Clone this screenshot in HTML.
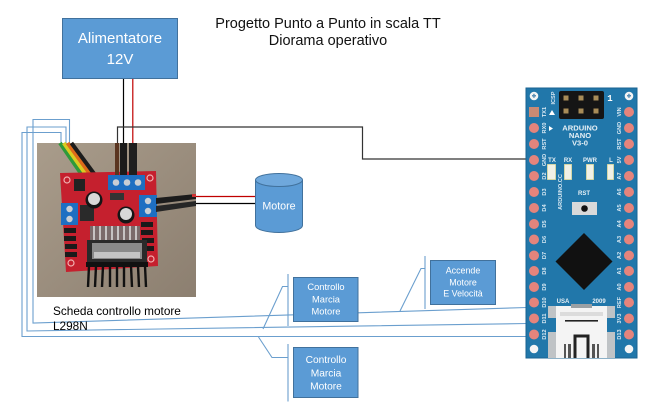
<!DOCTYPE html>
<html><head><meta charset="utf-8"><style>
html,body{margin:0;padding:0;background:#fff;}
svg{display:block;}
text{font-family:"Liberation Sans",sans-serif;}
.mono{font-family:"Liberation Mono",monospace;}
</style></head><body>
<svg width="664" height="413" viewBox="0 0 664 413" xmlns="http://www.w3.org/2000/svg">
<defs>
<linearGradient id="bg" x1="0" y1="0" x2="1" y2="1">
<stop offset="0" stop-color="#a99c8b"/><stop offset="1" stop-color="#8c7f70"/>
</linearGradient>
</defs>
<rect width="664" height="413" fill="#fff"/>

<!-- Title -->
<text x="328" y="28" font-size="14.5" text-anchor="middle" fill="#111">Progetto Punto a Punto in scala TT</text>
<text x="328" y="45" font-size="14.5" text-anchor="middle" fill="#111">Diorama operativo</text>

<!-- Alimentatore -->
<rect x="62.5" y="18.5" width="115" height="60" fill="#5b9bd5" stroke="#41719c" stroke-width="1"/>
<text x="120" y="43" font-size="15" text-anchor="middle" fill="#fff">Alimentatore</text>
<text x="120" y="64" font-size="15" text-anchor="middle" fill="#fff">12V</text>

<!-- power wires -->
<line x1="123.5" y1="79" x2="123.5" y2="145" stroke="#000" stroke-width="1.2"/>
<line x1="132.8" y1="79" x2="132.8" y2="145" stroke="#c00000" stroke-width="1.2"/>

<!-- black signal line to arduino -->
<polyline points="117.5,145 117.5,127 362.5,127 362.5,159 527,159" fill="none" stroke="#333" stroke-width="1.2"/>

<!-- blue lines left -->
<g fill="none" stroke="#6b9fce" stroke-width="1.1">
<polyline points="61,143 61,132.5 22,132.5 22,336.5 527,336.5"/>
<polyline points="66,143 66,127 27,127 27,331 527,323.5"/>
<polyline points="69.5,143 69.5,119.5 33,119.5 33,323 527,307.5"/>
</g>

<!-- Photo -->
<rect x="37" y="143" width="159" height="154" fill="url(#bg)"/>
<!-- ribbon -->
<g stroke-width="4" stroke-linecap="butt">
<line x1="60" y1="143" x2="91" y2="188" stroke="#2e9a3a"/>
<line x1="63.8" y1="143" x2="94.8" y2="187" stroke="#d9cb22"/>
<line x1="67.6" y1="143" x2="98.6" y2="186" stroke="#dd6a1a"/>
<line x1="71.4" y1="143" x2="102.4" y2="185" stroke="#1c1c1c"/>
</g>
<!-- red board -->
<polygon points="60,173 156,171 158,266 66,272" fill="#c5202e"/>
<g fill="none" stroke="#f0b0b0" stroke-width="1.2">
<circle cx="67" cy="180" r="3"/><circle cx="150" cy="178" r="3"/><circle cx="71" cy="263" r="3"/><circle cx="151" cy="259" r="3"/>
</g>
<!-- top cables -->
<rect x="115" y="143" width="4" height="34" fill="#5a3520"/>
<rect x="120" y="143" width="7" height="34" fill="#1b1b1b"/>
<rect x="129" y="143" width="8" height="34" fill="#1f1f1f"/>
<!-- terminals -->
<rect x="108" y="175" width="37" height="15" fill="#1e6fc2"/>
<g fill="#c9ced4"><circle cx="116" cy="182.5" r="3.3"/><circle cx="127" cy="182.5" r="3.3"/><circle cx="138" cy="182.5" r="3.3"/></g>
<rect x="61" y="203" width="17" height="22" fill="#1e6fc2"/>
<g fill="#c9ced4"><circle cx="69.5" cy="209" r="3.2"/><circle cx="69.5" cy="219" r="3.2"/></g>
<rect x="139" y="195" width="18" height="22" fill="#1e6fc2"/>
<g fill="#c9ced4"><circle cx="148" cy="201" r="3.2"/><circle cx="148" cy="211" r="3.2"/></g>
<!-- right cables -->
<polygon points="156,198 196,194 196,199 156,204" fill="#1c1c1c"/>
<polygon points="156,206 196,201 196,206 156,212" fill="#262626"/>
<rect x="192" y="194" width="4" height="3" fill="#c33"/>
<!-- small parts -->
<rect x="74" y="179" width="11" height="12" fill="#222"/>
<rect x="80" y="205" width="14" height="16" fill="#2a2a2a"/>
<rect x="110" y="193" width="14" height="7" fill="#333"/>
<circle cx="94" cy="200" r="8.5" fill="#151515"/><circle cx="94" cy="199" r="6" fill="#d8d8d8"/>
<circle cx="126" cy="215" r="8.5" fill="#151515"/><circle cx="126" cy="214" r="6" fill="#d8d8d8"/>
<g fill="#1a1a1a">
<rect x="64" y="228" width="12" height="5"/><rect x="64" y="236" width="12" height="5"/><rect x="65" y="244" width="12" height="5"/><rect x="65" y="252" width="12" height="5"/>
<rect x="141" y="222" width="12" height="5"/><rect x="141" y="230" width="12" height="5"/><rect x="142" y="238" width="12" height="5"/><rect x="142" y="246" width="12" height="5"/>
</g>
<!-- chip pins -->
<rect x="90" y="226" width="50" height="14" fill="#7a6a6a"/>
<g stroke="#e8e8e8" stroke-width="1.4">
<line x1="94" y1="226" x2="94" y2="240"/><line x1="100" y1="226" x2="100" y2="240"/><line x1="106" y1="226" x2="106" y2="240"/><line x1="112" y1="226" x2="112" y2="240"/><line x1="118" y1="226" x2="118" y2="240"/><line x1="124" y1="226" x2="124" y2="240"/><line x1="130" y1="226" x2="130" y2="240"/><line x1="136" y1="226" x2="136" y2="240"/>
</g>
<!-- heatsink -->
<rect x="87" y="240" width="60" height="24" fill="#2a2a2a"/>
<rect x="92" y="243" width="50" height="16" fill="#8a8a8a"/>
<rect x="94" y="252" width="46" height="6" fill="#c4c4c4"/>
<rect x="86" y="262" width="62" height="5" fill="#111"/>
<g stroke="#111" stroke-width="2.4">
<line x1="89" y1="266" x2="88" y2="287"/><line x1="96" y1="266" x2="95" y2="287"/><line x1="103" y1="266" x2="102" y2="287"/><line x1="110" y1="266" x2="110" y2="287"/><line x1="117" y1="266" x2="117" y2="287"/><line x1="124" y1="266" x2="124" y2="287"/><line x1="131" y1="266" x2="132" y2="287"/><line x1="138" y1="266" x2="139" y2="287"/><line x1="145" y1="266" x2="146" y2="287"/>
</g>

<!-- Motor wires -->
<line x1="196" y1="196.5" x2="256" y2="196.5" stroke="#c00000" stroke-width="1.2"/>
<line x1="196" y1="203.5" x2="256" y2="203.5" stroke="#000" stroke-width="1.2"/>

<!-- Motor cylinder -->
<path d="M255.5,180 L255.5,225.5 A23.5,7 0 0 0 302.5,225.5 L302.5,180 Z" fill="#5b9bd5" stroke="#41719c" stroke-width="1"/>
<ellipse cx="279" cy="180" rx="23.5" ry="6.5" fill="#6fa8dc" stroke="#41719c" stroke-width="1"/>
<text x="279" y="209.5" font-size="10.7" text-anchor="middle" fill="#fff">Motore</text>

<!-- Scheda label -->
<text x="53" y="315" font-size="11.8" fill="#000">Scheda controllo motore</text>
<text x="53" y="330" font-size="11.8" fill="#000">L298N</text>

<!-- Callout 1 -->
<g fill="none" stroke="#6b9fce" stroke-width="1.1">
<line x1="288" y1="274" x2="288" y2="326"/>
<polyline points="288,286.5 282.5,286.5 263,329"/>
<line x1="288" y1="344" x2="288" y2="401.5"/>
<polyline points="288,357.5 272,357.5 258.5,337"/>
<line x1="425" y1="256" x2="425" y2="309"/>
<polyline points="425,268.5 421,268.5 400,311"/>
</g>
<rect x="293.5" y="277.5" width="64.5" height="44" fill="#5b9bd5" stroke="#41719c" stroke-width="1"/>
<text x="326" y="290" font-size="9.3" text-anchor="middle" fill="#fff">Controllo</text>
<text x="326" y="302.5" font-size="9.3" text-anchor="middle" fill="#fff">Marcia</text>
<text x="326" y="314.5" font-size="9.3" text-anchor="middle" fill="#fff">Motore</text>

<rect x="293.5" y="347.5" width="64.5" height="50" fill="#5b9bd5" stroke="#41719c" stroke-width="1"/>
<text x="326" y="363" font-size="10.2" text-anchor="middle" fill="#fff">Controllo</text>
<text x="326" y="376.3" font-size="10.2" text-anchor="middle" fill="#fff">Marcia</text>
<text x="326" y="389.6" font-size="10.2" text-anchor="middle" fill="#fff">Motore</text>

<rect x="430.5" y="260.5" width="65" height="44" fill="#5b9bd5" stroke="#41719c" stroke-width="1"/>
<text x="463" y="273.3" font-size="8.9" text-anchor="middle" fill="#fff">Accende</text>
<text x="463" y="285.5" font-size="8.9" text-anchor="middle" fill="#fff">Motore</text>
<text x="463" y="296.7" font-size="8.9" text-anchor="middle" fill="#fff">E Velocità</text>

<!-- Arduino Nano -->
<rect x="526" y="88" width="111" height="270" fill="#2177aa" stroke="#1a6392" stroke-width="1"/>
<!-- mounting holes -->
<g fill="#f4f4f4">
<circle cx="534" cy="96" r="4.3"/><circle cx="629" cy="96" r="4.3"/><circle cx="534" cy="349" r="4.3"/><circle cx="629" cy="349" r="4.3"/>
</g>
<g fill="#5a8fb5"><rect x="532" y="95" width="4" height="1.5"/><rect x="533.2" y="93.8" width="1.5" height="4"/><rect x="627" y="95" width="4" height="1.5"/><rect x="628.2" y="93.8" width="1.5" height="4"/></g>
<!-- pins -->
<g fill="#e5847c">
<rect x="529" y="107" width="10" height="10" fill="#c98a74"/>
<circle cx="534" cy="128" r="5"/><circle cx="534" cy="144" r="5"/><circle cx="534" cy="160" r="5"/><circle cx="534" cy="176" r="5"/><circle cx="534" cy="192" r="5"/><circle cx="534" cy="208" r="5"/><circle cx="534" cy="224" r="5"/><circle cx="534" cy="239.5" r="5"/><circle cx="534" cy="255.5" r="5"/><circle cx="534" cy="271" r="5"/><circle cx="534" cy="287" r="5"/><circle cx="534" cy="302.5" r="5"/><circle cx="534" cy="318.5" r="5"/><circle cx="534" cy="334.5" r="5"/>
<circle cx="629" cy="112" r="5"/><circle cx="629" cy="128" r="5"/><circle cx="629" cy="144" r="5"/><circle cx="629" cy="160" r="5"/><circle cx="629" cy="176" r="5"/><circle cx="629" cy="192" r="5"/><circle cx="629" cy="208" r="5"/><circle cx="629" cy="224" r="5"/><circle cx="629" cy="239.5" r="5"/><circle cx="629" cy="255.5" r="5"/><circle cx="629" cy="271" r="5"/><circle cx="629" cy="287" r="5"/><circle cx="629" cy="302.5" r="5"/><circle cx="629" cy="318.5" r="5"/><circle cx="629" cy="334.5" r="5"/>
</g>
<!-- pin labels -->
<g class="mono" font-size="5.6" fill="#d9e9f3" text-anchor="middle" font-weight="bold">
<text x="544" y="114" transform="rotate(-90 544 112)">TX1</text>
<text x="544" y="130" transform="rotate(-90 544 128)">RX0</text>
<text x="544" y="146" transform="rotate(-90 544 144)">RST</text>
<text x="544" y="162" transform="rotate(-90 544 160)">GND</text>
<text x="544" y="178" transform="rotate(-90 544 176)">D2</text>
<text x="544" y="194" transform="rotate(-90 544 192)">D3</text>
<text x="544" y="210" transform="rotate(-90 544 208)">D4</text>
<text x="544" y="226" transform="rotate(-90 544 224)">D5</text>
<text x="544" y="241.5" transform="rotate(-90 544 239.5)">D6</text>
<text x="544" y="257.5" transform="rotate(-90 544 255.5)">D7</text>
<text x="544" y="273" transform="rotate(-90 544 271)">D8</text>
<text x="544" y="289" transform="rotate(-90 544 287)">D9</text>
<text x="544" y="304.5" transform="rotate(-90 544 302.5)">D10</text>
<text x="544" y="320.5" transform="rotate(-90 544 318.5)">D11</text>
<text x="544" y="336.5" transform="rotate(-90 544 334.5)">D12</text>
<text x="619" y="114" transform="rotate(-90 619 112)">VIN</text>
<text x="619" y="130" transform="rotate(-90 619 128)">GND</text>
<text x="619" y="146" transform="rotate(-90 619 144)">RST</text>
<text x="619" y="162" transform="rotate(-90 619 160)">5V</text>
<text x="619" y="178" transform="rotate(-90 619 176)">A7</text>
<text x="619" y="194" transform="rotate(-90 619 192)">A6</text>
<text x="619" y="210" transform="rotate(-90 619 208)">A5</text>
<text x="619" y="226" transform="rotate(-90 619 224)">A4</text>
<text x="619" y="241.5" transform="rotate(-90 619 239.5)">A3</text>
<text x="619" y="257.5" transform="rotate(-90 619 255.5)">A2</text>
<text x="619" y="273" transform="rotate(-90 619 271)">A1</text>
<text x="619" y="289" transform="rotate(-90 619 287)">A0</text>
<text x="619" y="304.5" transform="rotate(-90 619 302.5)">REF</text>
<text x="619" y="320.5" transform="rotate(-90 619 318.5)">3V3</text>
<text x="619" y="336.5" transform="rotate(-90 619 334.5)">D13</text>
<text x="553" y="100" transform="rotate(-90 553 98)">ICSP</text>
<text x="560" y="194" transform="rotate(-90 560 192)">ARDUINO.CC</text>
</g>
<polygon points="549,115 555,115 552,110" fill="#fff"/>
<polygon points="549,126 549,131 553,128.5" fill="#fff"/>
<!-- ICSP -->
<rect x="559" y="91" width="45" height="28" rx="2" fill="#151515"/>
<g fill="#a88c58">
<rect x="563.5" y="95.5" width="5" height="5"/><rect x="578.5" y="95.5" width="5" height="5"/><rect x="593.5" y="95.5" width="5" height="5"/>
<rect x="563.5" y="108.5" width="5" height="5"/><rect x="578.5" y="108.5" width="5" height="5"/><rect x="593.5" y="108.5" width="5" height="5"/>
</g>
<text class="mono" x="610" y="101" font-size="9" font-weight="bold" fill="#fff" text-anchor="middle">1</text>
<g class="mono" font-size="7.6" font-weight="bold" fill="#e6f0f6" text-anchor="middle">
<text x="580" y="130.5">ARDUINO</text>
<text x="580" y="138">NANO</text>
<text x="580" y="145.5">V3-0</text>
</g>
<!-- LEDs -->
<g class="mono" font-size="6" font-weight="bold" fill="#e6f0f6" text-anchor="middle">
<text x="552" y="162">TX</text><text x="568" y="162">RX</text><text x="590" y="162">PWR</text><text x="611" y="162">L</text>
<text x="584" y="195">RST</text>
<text x="563" y="303">USA</text><text x="599" y="303">2009</text>
</g>
<g fill="#f1f1e6" stroke="#e8e0a0" stroke-width="0.8">
<rect x="547.5" y="164.5" width="8" height="15"/><rect x="564.5" y="164.5" width="7" height="15"/><rect x="586.5" y="164.5" width="7" height="15"/><rect x="607.5" y="164.5" width="6" height="15"/>
</g>
<!-- RST button -->
<rect x="572" y="202" width="25" height="13" fill="#d9d9d9"/>
<circle cx="584.5" cy="208.5" r="3.3" fill="#111"/>
<!-- chip -->
<polygon points="584,233 612.5,261.5 584,290 555.5,261.5" fill="#111"/>
<!-- USB -->
<rect x="548" y="306" width="67" height="52" fill="#bfc3c6"/>
<rect x="556" y="306" width="51" height="52" fill="#f4f4f4"/>
<rect x="548" y="318" width="8" height="14" fill="#2177aa"/>
<rect x="607" y="318" width="8" height="14" fill="#2177aa"/>
<rect x="571" y="304" width="21" height="4" fill="#9aa0a4"/>
<rect x="560" y="312" width="43" height="4" fill="#dcdcdc"/>
<rect x="565" y="320" width="33" height="1.6" fill="#222"/>
<path d="M565,358 L565,344 M598,358 L598,344" stroke="#222" stroke-width="1.5" fill="none"/>
<path d="M575,358 L575,336 L588,336 L588,358" stroke="#222" stroke-width="3" fill="none"/>
<rect x="568" y="344" width="3" height="14" fill="#555"/>
<rect x="592" y="344" width="3" height="14" fill="#555"/>
</svg>
</body></html>
